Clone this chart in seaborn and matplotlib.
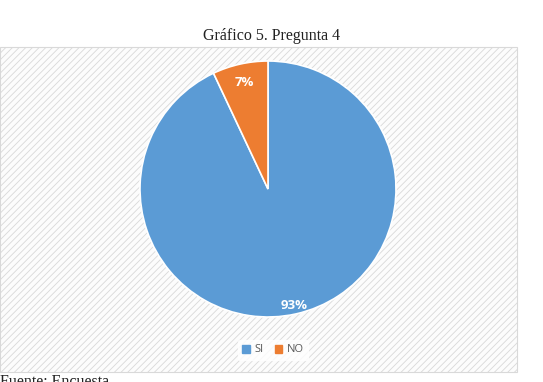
import matplotlib
matplotlib.use("Agg")
import matplotlib.pyplot as plt
import matplotlib.patches as mpatches
import seaborn as sns

sns.set_theme(style="white")

# datos
categorias = ["SI", "NO"]
porcentajes = [93, 7]
colores = ["#5B9BD5", "#ED7D31"]

plt.rcParams["hatch.color"] = "#F0F0F0"
plt.rcParams["hatch.linewidth"] = 0.6

fig = plt.figure(figsize=(5.43, 3.82), dpi=100)

# panel gris con rayado
panel = mpatches.Rectangle((0.0, 0.027), 0.953, 0.85, transform=fig.transFigure,
                           facecolor="#FCFCFC", edgecolor="#D9D9D9", hatch="/////",
                           linewidth=0.8, zorder=-5)
fig.patches.append(panel)

fig.text(0.5, 0.905, "Gráfico 5. Pregunta 4", ha="center", va="center",
         fontsize=11.5, family="Liberation Serif", color="#222222")
fig.text(0.0, 0.0, "Fuente: Encuesta", ha="left", va="center",
         fontsize=11.5, family="Liberation Serif", color="#222222")

w, h = 256 / 543, 256 / 382
ax = fig.add_axes([268 / 543 - w / 2, 1 - 189 / 382 - h / 2, w, h])
ax.patch.set_alpha(0)
wedges, textos = ax.pie(porcentajes, colors=colores, startangle=90, counterclock=False,
                        wedgeprops=dict(edgecolor="white", linewidth=1.2),
                        labels=[f"{p}%" for p in porcentajes], labeldistance=0.85)
# la etiqueta grande va un poco más afuera
x, y = textos[0].get_position()
textos[0].set_position((x * 0.93 / 0.85, y * 0.93 / 0.85))
for t in textos:
    t.set_color("white")
    t.set_fontweight("bold")
    t.set_fontsize(9.5)
    t.set_family("Open Sans")
    t.set_ha("center")
    t.set_va("center")
ax.set_aspect("equal")
ax.set_xlim(-1, 1)
ax.set_ylim(-1, 1)

handles = [mpatches.Patch(color=c, label=l) for c, l in zip(colores, categorias)]
leg = fig.legend(handles=handles, loc="center", bbox_to_anchor=(273 / 543, 1 - 350 / 382),
                 ncol=2, frameon=True, fontsize=8, handlelength=0.7, handleheight=0.7,
                 handletextpad=0.4, columnspacing=1.0, borderpad=0.4)
leg.get_frame().set_facecolor("white")
leg.get_frame().set_edgecolor("white")
for t in leg.get_texts():
    t.set_color("#595959")
    t.set_family("Open Sans")

fig.savefig("out.png", dpi=100, facecolor="white")
